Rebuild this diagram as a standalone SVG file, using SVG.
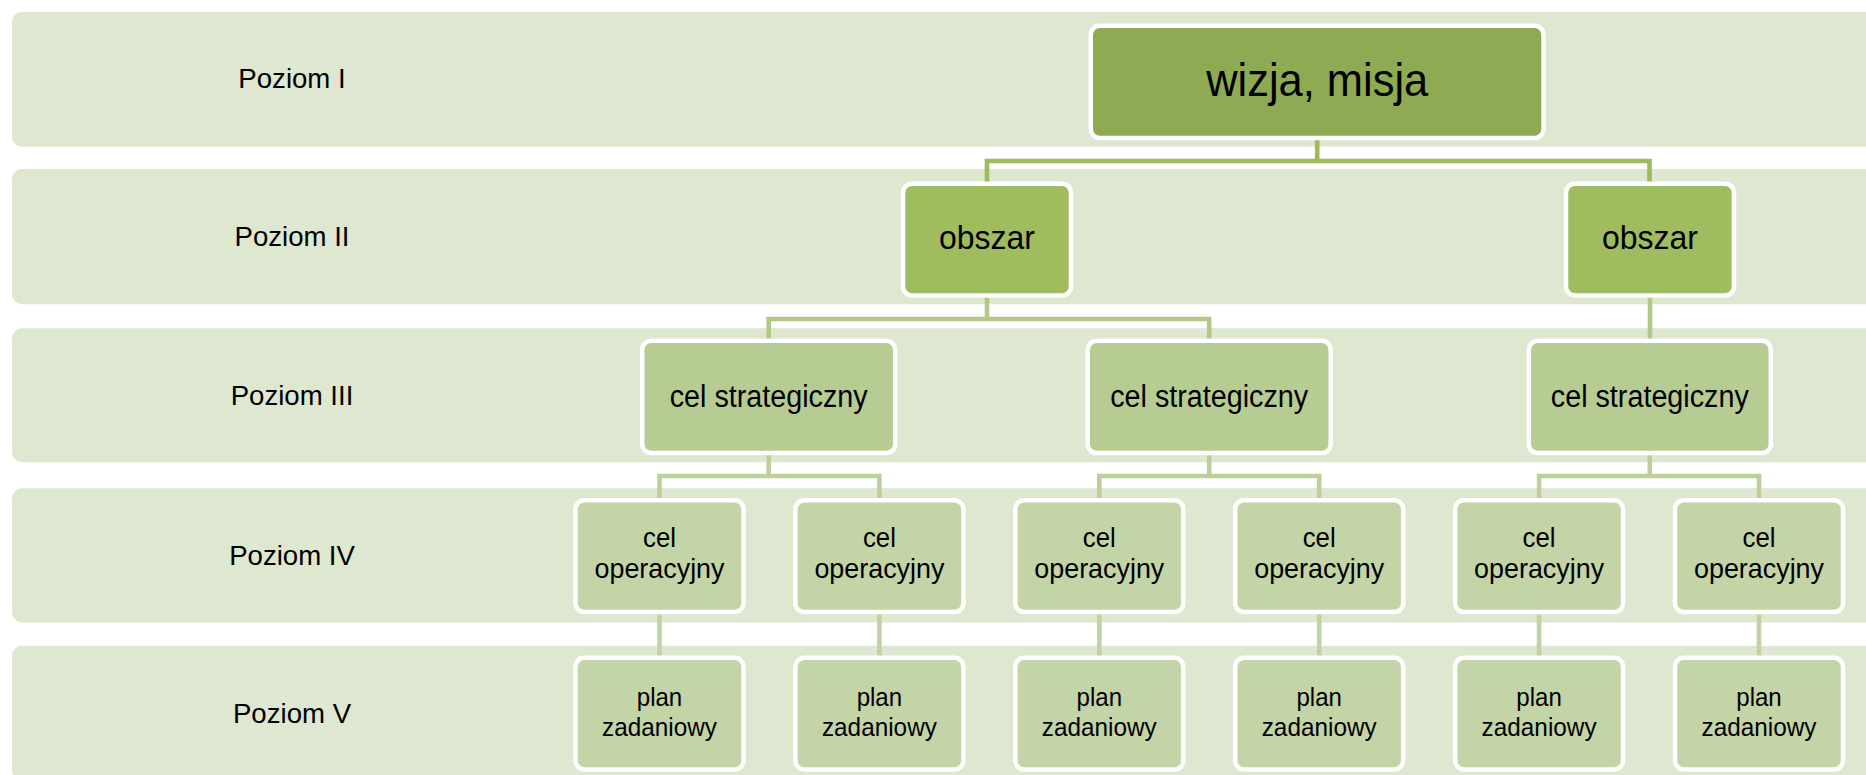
<svg xmlns="http://www.w3.org/2000/svg" width="1866" height="775" viewBox="0 0 1866 775">
<style>
.band{fill:#dee7d0}
.lbl{font-family:"Liberation Sans",Arial,sans-serif;font-size:27.6px;fill:#000;text-anchor:middle}
.box{stroke:#fff;stroke-width:4.5}
.l1{fill:#8eaa52}
.l2{fill:#9fbd5e}
.l3{fill:#b7cc92}
.l4{fill:#c3d4a6}
.t{font-family:"Liberation Sans",Arial,sans-serif;fill:#000;text-anchor:middle}
.t1{font-size:46px}
.t2{font-size:34px}
.t3{font-size:31px}
.t4{font-size:28.5px}
.t5{font-size:26px}
.c{fill:none;stroke-width:4.6;stroke-linejoin:miter;stroke-linecap:butt}
.c1{stroke:#9dbb5c}
.c2{stroke:#b1c886}
.c3{stroke:#bdd09c}
.c4{stroke:#c0d3a2}
</style>
<g id="bands">
<rect class="band" x="12" y="11.7" width="1880" height="135" rx="10"/>
<rect class="band" x="12" y="169" width="1880" height="135.3" rx="10"/>
<rect class="band" x="12" y="328.3" width="1880" height="134" rx="10"/>
<rect class="band" x="12" y="488.3" width="1880" height="134.2" rx="10"/>
<rect class="band" x="12" y="645.7" width="1880" height="135" rx="10"/>
</g>
<g id="labels">
<text class="lbl" x="292" y="88.3">Poziom I</text>
<text class="lbl" x="292" y="246">Poziom II</text>
<text class="lbl" x="292" y="405">Poziom III</text>
<text class="lbl" x="292" y="565">Poziom IV</text>
<text class="lbl" x="292" y="722.7">Poziom V</text>
</g>
<g id="connectors">
<path class="c c1" d="M1317.2,138 V161 M987,183.8 V161 H1649.5 V183.8"/>
<path class="c c2" d="M987,295.5 V319 M768.7,340.8 V319 H1209.2 V340.8 M1650,295.5 V340.8"/>
<path class="c c3" d="M768.7,453 V476 M659.5,500.3 V476 H879.4 V500.3 M1209.2,453 V476 M1099.3,500.3 V476 H1319.2 V500.3 M1649.8,453 V476 M1539.1,500.3 V476 H1759 V500.3"/>
<path class="c c4" d="M659.5,612 V657.8 M879.4,612 V657.8 M1099.3,612 V657.8 M1319.2,612 V657.8 M1539.1,612 V657.8 M1759,612 V657.8"/>
</g>
<g id="n-wizja">
<rect class="box l1" x="1090.8" y="25.8" width="452.7" height="112.2" rx="9"/>
<text class="t t1" x="1317.2" y="95.5" textLength="222" lengthAdjust="spacingAndGlyphs">wizja, misja</text>
</g>
<g id="n-obszar1">
<rect class="box l2" x="903" y="183.8" width="168" height="111.7" rx="9"/>
<text class="t t2" x="987" y="249.3" textLength="96" lengthAdjust="spacingAndGlyphs">obszar</text>
</g>
<g id="n-obszar2">
<rect class="box l2" x="1566" y="183.8" width="168" height="111.7" rx="9"/>
<text class="t t2" x="1650" y="249.3" textLength="96" lengthAdjust="spacingAndGlyphs">obszar</text>
</g>
<g id="n-cs1">
<rect class="box l3" x="642.2" y="340.8" width="253" height="112.2" rx="9"/>
<text class="t t3" x="768.7" y="406.7" textLength="198" lengthAdjust="spacingAndGlyphs">cel strategiczny</text>
</g>
<g id="n-cs2">
<rect class="box l3" x="1087.7" y="340.8" width="243" height="112.2" rx="9"/>
<text class="t t3" x="1209.2" y="406.7" textLength="198" lengthAdjust="spacingAndGlyphs">cel strategiczny</text>
</g>
<g id="n-cs3">
<rect class="box l3" x="1528.8" y="340.8" width="242" height="112.2" rx="9"/>
<text class="t t3" x="1649.8" y="406.7" textLength="198" lengthAdjust="spacingAndGlyphs">cel strategiczny</text>
</g>
<g id="n-co1">
<rect class="box l4" x="575.5" y="500.3" width="168" height="111.7" rx="9"/>
<text class="t t4" x="659.5" y="546.5" textLength="33" lengthAdjust="spacingAndGlyphs">cel</text>
<text class="t t4" x="659.5" y="578" textLength="130" lengthAdjust="spacingAndGlyphs">operacyjny</text>
</g>
<g id="n-co2">
<rect class="box l4" x="795.4" y="500.3" width="168" height="111.7" rx="9"/>
<text class="t t4" x="879.4" y="546.5" textLength="33" lengthAdjust="spacingAndGlyphs">cel</text>
<text class="t t4" x="879.4" y="578" textLength="130" lengthAdjust="spacingAndGlyphs">operacyjny</text>
</g>
<g id="n-co3">
<rect class="box l4" x="1015.3" y="500.3" width="168" height="111.7" rx="9"/>
<text class="t t4" x="1099.3" y="546.5" textLength="33" lengthAdjust="spacingAndGlyphs">cel</text>
<text class="t t4" x="1099.3" y="578" textLength="130" lengthAdjust="spacingAndGlyphs">operacyjny</text>
</g>
<g id="n-co4">
<rect class="box l4" x="1235.2" y="500.3" width="168" height="111.7" rx="9"/>
<text class="t t4" x="1319.2" y="546.5" textLength="33" lengthAdjust="spacingAndGlyphs">cel</text>
<text class="t t4" x="1319.2" y="578" textLength="130" lengthAdjust="spacingAndGlyphs">operacyjny</text>
</g>
<g id="n-co5">
<rect class="box l4" x="1455.1" y="500.3" width="168" height="111.7" rx="9"/>
<text class="t t4" x="1539.1" y="546.5" textLength="33" lengthAdjust="spacingAndGlyphs">cel</text>
<text class="t t4" x="1539.1" y="578" textLength="130" lengthAdjust="spacingAndGlyphs">operacyjny</text>
</g>
<g id="n-co6">
<rect class="box l4" x="1675" y="500.3" width="168" height="111.7" rx="9"/>
<text class="t t4" x="1759" y="546.5" textLength="33" lengthAdjust="spacingAndGlyphs">cel</text>
<text class="t t4" x="1759" y="578" textLength="130" lengthAdjust="spacingAndGlyphs">operacyjny</text>
</g>
<g id="n-pz1">
<rect class="box l4" x="575.5" y="657.8" width="168" height="111.7" rx="9"/>
<text class="t t5" x="659.5" y="706" textLength="45.5" lengthAdjust="spacingAndGlyphs">plan</text>
<text class="t t5" x="659.5" y="735.5" textLength="115" lengthAdjust="spacingAndGlyphs">zadaniowy</text>
</g>
<g id="n-pz2">
<rect class="box l4" x="795.4" y="657.8" width="168" height="111.7" rx="9"/>
<text class="t t5" x="879.4" y="706" textLength="45.5" lengthAdjust="spacingAndGlyphs">plan</text>
<text class="t t5" x="879.4" y="735.5" textLength="115" lengthAdjust="spacingAndGlyphs">zadaniowy</text>
</g>
<g id="n-pz3">
<rect class="box l4" x="1015.3" y="657.8" width="168" height="111.7" rx="9"/>
<text class="t t5" x="1099.3" y="706" textLength="45.5" lengthAdjust="spacingAndGlyphs">plan</text>
<text class="t t5" x="1099.3" y="735.5" textLength="115" lengthAdjust="spacingAndGlyphs">zadaniowy</text>
</g>
<g id="n-pz4">
<rect class="box l4" x="1235.2" y="657.8" width="168" height="111.7" rx="9"/>
<text class="t t5" x="1319.2" y="706" textLength="45.5" lengthAdjust="spacingAndGlyphs">plan</text>
<text class="t t5" x="1319.2" y="735.5" textLength="115" lengthAdjust="spacingAndGlyphs">zadaniowy</text>
</g>
<g id="n-pz5">
<rect class="box l4" x="1455.1" y="657.8" width="168" height="111.7" rx="9"/>
<text class="t t5" x="1539.1" y="706" textLength="45.5" lengthAdjust="spacingAndGlyphs">plan</text>
<text class="t t5" x="1539.1" y="735.5" textLength="115" lengthAdjust="spacingAndGlyphs">zadaniowy</text>
</g>
<g id="n-pz6">
<rect class="box l4" x="1675" y="657.8" width="168" height="111.7" rx="9"/>
<text class="t t5" x="1759" y="706" textLength="45.5" lengthAdjust="spacingAndGlyphs">plan</text>
<text class="t t5" x="1759" y="735.5" textLength="115" lengthAdjust="spacingAndGlyphs">zadaniowy</text>
</g>
</svg>
